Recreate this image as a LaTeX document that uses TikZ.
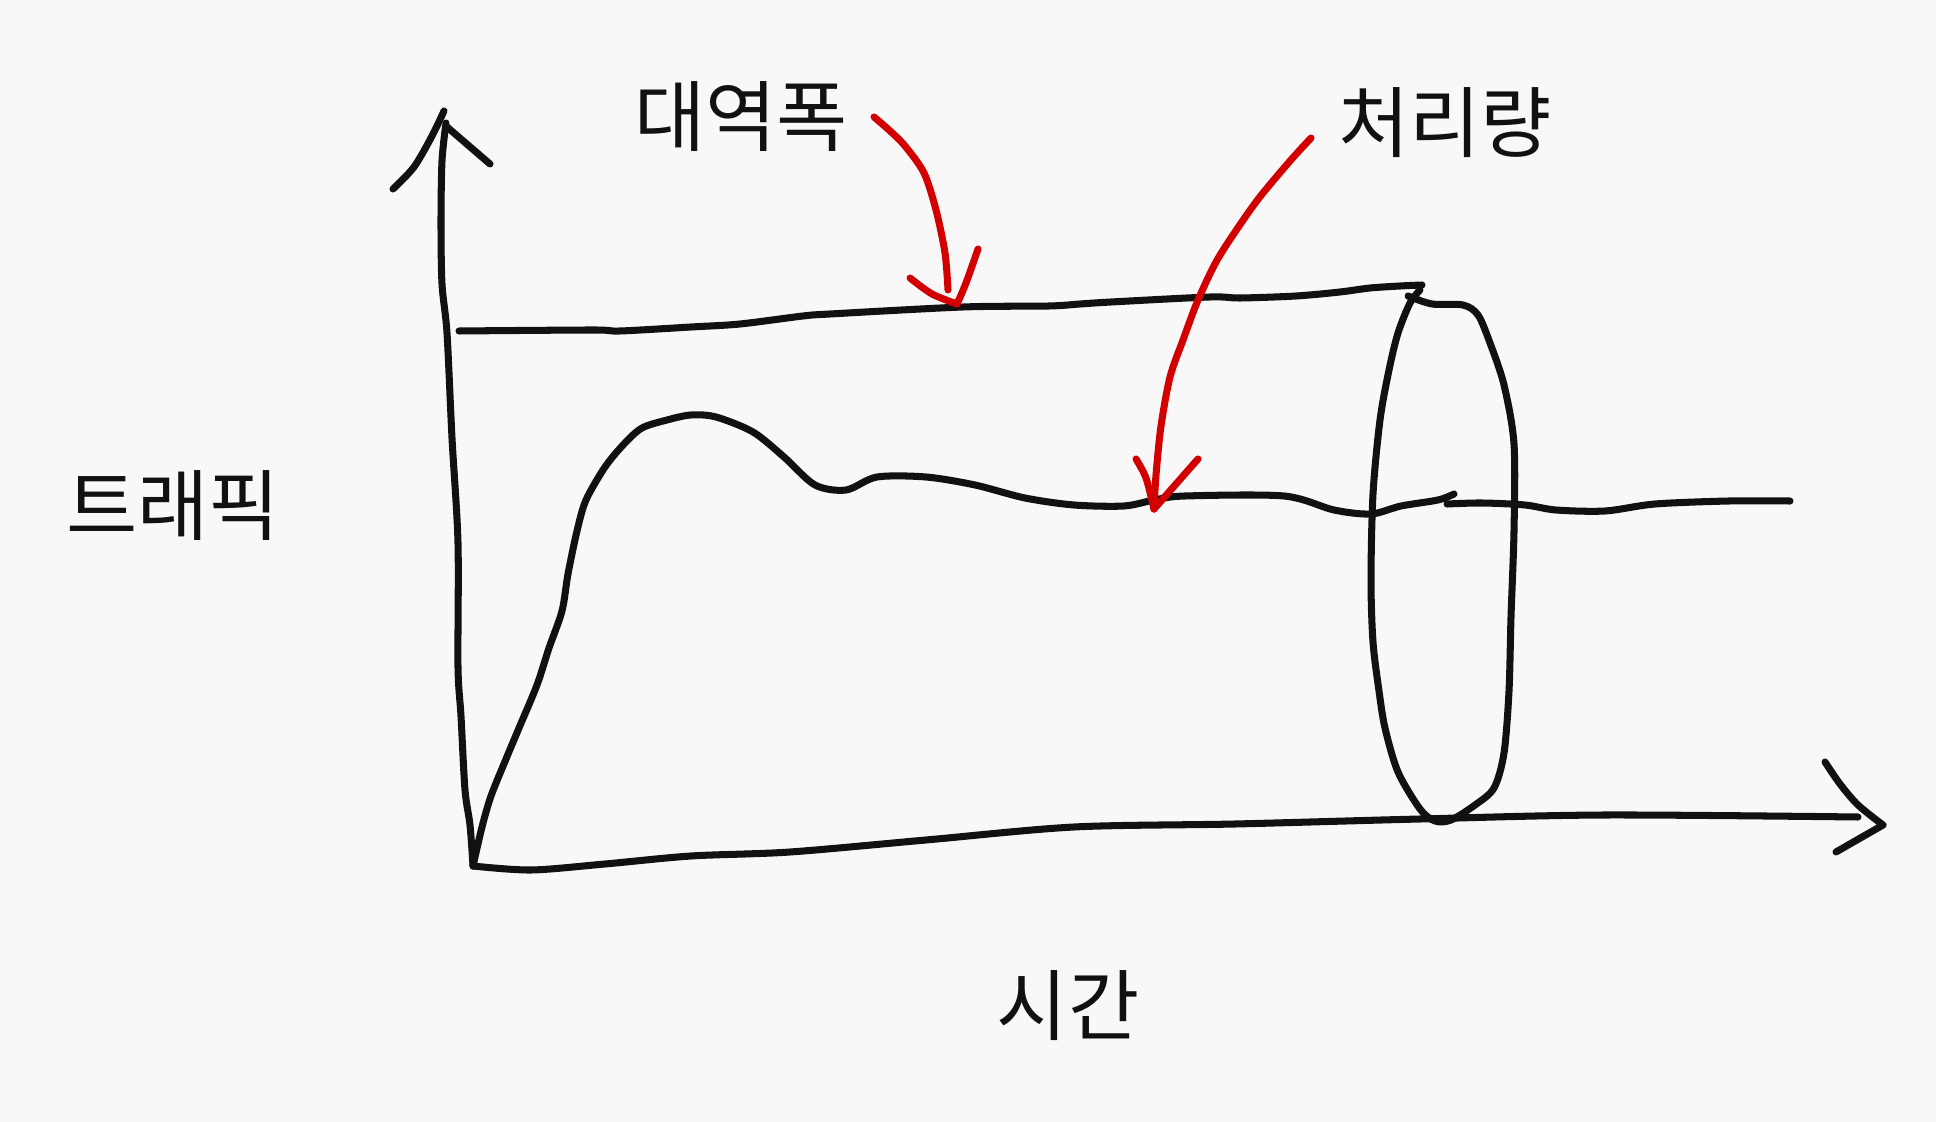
\documentclass[tikz,border=0pt]{standalone}
\usepackage{fontspec}
\newfontfamily\kofont{Noto Sans CJK KR}
\definecolor{paper}{RGB}{248,248,248}
\definecolor{pen}{RGB}{17,17,17}
\definecolor{redpen}{RGB}{210,0,0}
\begin{document}
\begin{tikzpicture}[x=0.01cm,y=-0.01cm,
    ink/.style={draw=pen,line width=2pt,line cap=round,line join=round},
    redink/.style={draw=redpen,line width=2pt,line cap=round,line join=round},
    word/.style={text=pen,font=\kofont\fontsize{22}{26}\selectfont,inner sep=0pt}]
\fill[paper] (0,0) rectangle (1936,1122);
\useasboundingbox (0,0) rectangle (1936,1122);

% labels
\node[word] (bw) at (741,117) {대역폭};
\node[word] (tp) at (1445,123) {처리량};
\node[word] (traffic) at (173,506) {트래픽};
\node[word] (time) at (1068,1006) {시간};
\coordinate (origin) at (473,866);
\coordinate (bwtip) at (957,304);
\coordinate (tptip) at (1154,509);

% axes
\draw[ink] plot[smooth] coordinates {(origin) (470,825) (465,790) (461,716) (458,667) (458,543) (452,438) (447,333) (442,284) (441,222) (442,161) (446,123)}; % y axis
\draw[ink] plot[smooth] coordinates {(393,189) (414,167) (432,136) (444,111)};
\draw[ink] (447,127) -- (490,164);
\draw[ink] plot[smooth] coordinates {(origin) (531,870) (605,864) (691,856) (790,852) (926,840) (1074,827) (1235,824) (1420,819) (1605,815) (1858,817)}; % x axis
\draw[ink] plot[smooth] coordinates {(1825,762) (1840,784) (1858,805) (1883,825)};
\draw[ink] (1836,852) -- (1883,825);

% bandwidth
\draw[ink] plot[smooth] coordinates {(459,331) (593,330) (620,331) (691,327) (740,324) (803,316) (830,314) (963,307) (1049,306) (1080,304) (1111,302) (1210,297) (1240,298) (1296,296) (1340,292) (1370,288) (1400,286) (1422,285)};
\draw[ink] plot[smooth] coordinates {(1408,296) (1432,304) (1463,305) (1478,315) (1490,343) (1504,385) (1514,444) (1514,531) (1511,617) (1509,691) (1504,753) (1494,788) (1475,805) (1451,820) (1435,821) (1420,809) (1398,772) (1385,728) (1379,691) (1373,642) (1371,580) (1373,494) (1380,420) (1389,370) (1398,333) (1410,303) (1420,290)};

% throughput
\draw[ink] plot[smooth] coordinates {(origin) (482,827) (491,796) (506,759) (519,728) (537,685) (549,648) (562,611) (568,574) (577,531) (586,500) (605,467) (624,444) (642,428) (667,420) (691,415) (716,417) (753,432) (784,457) (815,485) (846,490) (877,477) (926,477) (975,485) (1025,498) (1074,505) (1124,506) (1154,500) (1185,496) (1284,496) (1334,510) (1371,514) (1401,506) (1438,500) (1454,494)};
\draw[ink] plot[smooth] coordinates {(1447,504) (1482,503) (1525,505) (1556,510) (1605,511) (1655,504) (1729,501) (1790,501)};

% red arrows
\draw[redink] plot[smooth] coordinates {(874,117) (889,130) (905,146) (924,173) (936,210) (945,253) (948,290)};
\draw[redink] plot[smooth] coordinates {(910,278) (932,294) (bwtip)};
\draw[redink] plot[smooth] coordinates {(978,249) (966,283) (bwtip)};
\draw[redink] plot[smooth] coordinates {(1311,138) (1290,161) (1259,198) (1235,232) (1216,262) (1198,300) (1183,340) (1170,377) (1161,426) (1156,475) (tptip)};
\draw[redink] plot[smooth] coordinates {(1136,459) (1146,478) (tptip)};
\draw[redink] (1198,459) -- (tptip);
\end{tikzpicture}
\end{document}
